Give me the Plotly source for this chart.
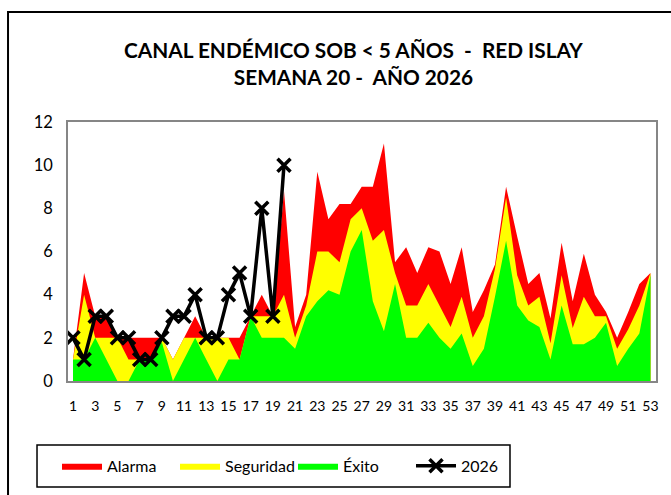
import plotly.graph_objects as go

# semanas epidemiologicas
semanas = list(range(1, 54))

alarma = [1, 5, 3, 3, 2, 2, 2, 2, 2, 1, 2, 3, 2, 2, 2, 2, 3, 4, 3, 8.8,
          2.5, 4, 9.7, 7.5, 8.2, 8.2, 9, 9, 11, 5.5, 6.2, 5, 6.2, 6, 4.5, 6.2, 3.2, 4.2, 5.4, 9,
          6.7, 4.5, 5, 2.9, 6.4, 3.7, 5.9, 4, 3.2, 2, 3.2, 4.5, 5]
seguridad = [1, 4, 2, 2, 2, 1, 1, 1, 2, 1, 2, 2, 2, 2, 2, 1, 3, 3, 3, 4,
             2, 3.5, 6, 6, 5.5, 7.5, 8, 6.5, 7, 5, 3.5, 3.5, 4.5, 3.5, 2.5, 3.9, 2, 3, 5.2, 8.5,
             4.9, 3.5, 3.9, 1.75, 4.9, 2.45, 3.9, 3, 3, 1.5, 2.4, 3.5, 5]
exito = [1, 1, 2, 1, 0, 0, 1, 1, 1.8, 0, 1, 2, 1, 0, 1, 1, 3, 2, 2, 2,
         1.5, 3, 3.7, 4.2, 4, 6, 7, 3.7, 2.3, 4.5, 2, 2, 2.7, 2, 1.5, 2.2, 0.7, 1.5, 3.9, 6.5,
         3.5, 2.8, 2.5, 1, 3.5, 1.7, 1.7, 2, 2.7, 0.7, 1.5, 2.2, 4.9]
casos_2026 = [2, 1, 3, 3, 2, 2, 1, 1, 2, 3, 3, 4, 2, 2, 4, 5, 3, 8, 3, 10]

FONT = "Lato, Calibri, Arial, sans-serif"

fig = go.Figure()
for nombre, serie, color in [("Alarma", alarma, "#FF0000"),
                             ("Seguridad", seguridad, "#FFFF00"),
                             ("Éxito", exito, "#00FF00")]:
    fig.add_trace(go.Scatter(x=semanas, y=serie, name=nombre, mode="lines",
                             fill="tozeroy", fillcolor=color,
                             line=dict(width=0, color=color)))

fig.add_trace(go.Scatter(x=semanas[:len(casos_2026)], y=casos_2026, name="2026",
                         mode="lines+markers",
                         line=dict(color="black", width=3.5),
                         marker=dict(symbol="x-thin", size=13,
                                     line=dict(color="black", width=3.5))))

fig.update_layout(
    width=671, height=495,
    margin=dict(l=68, r=15, t=122, b=114, autoexpand=False),
    paper_bgcolor="white", plot_bgcolor="white",
    font=dict(family=FONT, size=14, color="black"),
    showlegend=True,
    legend=dict(orientation="h", x=-0.0187, y=-0.328, xanchor="left", yanchor="middle",
                borderwidth=0, bgcolor="rgba(0,0,0,0)", font=dict(size=16),
                itemwidth=40, entrywidth=63, entrywidthmode="pixels", tracegroupgap=0),
    annotations=[dict(text="<b>CANAL ENDÉMICO SOB < 5 AÑOS  -  RED ISLAY</b><br><b>SEMANA 20 -  AÑO 2026</b>",
                      xref="paper", yref="paper", x=0.486, y=1.226,
                      xanchor="center", yanchor="middle", showarrow=False,
                      font=dict(size=20.8, family=FONT))],
    shapes=[dict(type="rect", xref="paper", yref="paper",
                 x0=-0.102, x1=1.06, y0=-0.47, y1=1.425,
                 line=dict(color="black", width=2), layer="below"),
            # recuadro de la leyenda
            dict(type="rect", xref="paper", yref="paper",
                 x0=-0.0527, x1=0.7517, y0=-0.409, y1=-0.247,
                 line=dict(color="black", width=1.5), layer="below")],
)

fig.update_xaxes(range=[0.55, 53.5], tick0=1, dtick=2, showgrid=False, zeroline=False,
                 showline=True, mirror=True, linecolor="#868686", linewidth=1.5,
                 ticks="", ticklabelstandoff=11)
fig.update_yaxes(range=[0, 12], dtick=2, showgrid=False, zeroline=False,
                 showline=True, mirror=True, linecolor="#868686", linewidth=1.5,
                 ticks="", ticklabelstandoff=10, tickfont=dict(size=16.5))

fig.write_html("out.html", config={"displayModeBar": False},
               post_script="document.body.style.margin='0px';")
